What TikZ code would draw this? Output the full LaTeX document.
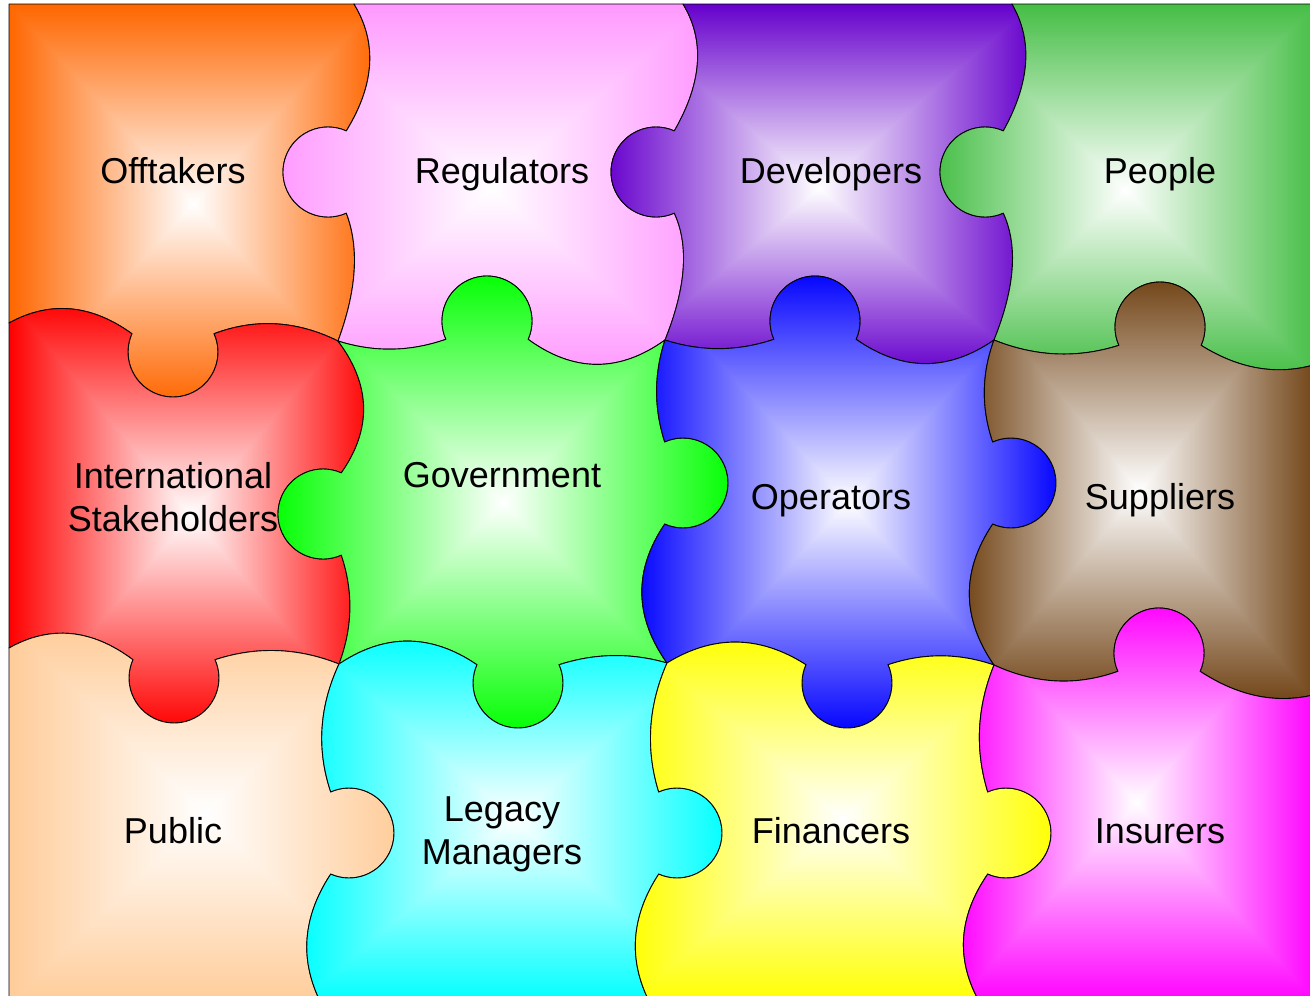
\documentclass[tikz,border=0pt]{standalone}
\usepackage{fontspec}
\setmainfont{Liberation Sans}
\usetikzlibrary{calc}

% rectangular ("box") gradient: white centre -> colour at the bounding box
\newcommand\mkshade[4]{%
 \pgfdeclarefunctionalshading{#1}{\pgfpointorigin}{\pgfpoint{100bp}{100bp}}{}{%
  50 sub abs exch 50 sub abs 2 copy lt {exch} if pop 25 div dup 1 gt {pop 1} if
  dup dup 1 #4 sub mul 1 exch sub 3 1 roll 1 #3 sub mul 1 exch sub exch
  1 #2 sub mul 1 exch sub 3 1 roll exch}}
\mkshade{shOff}{1}{0.4}{0}
\mkshade{shReg}{1}{0.6}{1}
\mkshade{shDev}{0.4}{0}{0.8}
\mkshade{shPeo}{0.27}{0.745}{0.27}
\mkshade{shInt}{1}{0}{0}
\mkshade{shGov}{0}{1}{0}
\mkshade{shOpe}{0}{0}{1}
\mkshade{shSup}{0.44}{0.26}{0.08}
\mkshade{shPub}{1}{0.8}{0.6}
\mkshade{shLeg}{0}{1}{1}
\mkshade{shFin}{1}{1}{0}
\mkshade{shIns}{1}{0}{1}

% symmetric bulging curve from #1 to #2, offset #3
\newcommand\pzbz[3]{.. controls ($(#1)!1/3!(#2)+(#3)$) and ($(#1)!2/3!(#2)+(#3)$) .. (#2)}
% edge: name, start, end, knob, d1, d2, start angle, end angle
\newcommand\pzedge[8]{%
 \expandafter\def\csname pzF#1\endcsname{\pzbz{#2}{#4a}{#5} arc[start angle=#7,end angle=#8,radius=45] \pzbz{#4b}{#3}{#6}}%
 \expandafter\def\csname pzR#1\endcsname{\pzbz{#3}{#4b}{#6} arc[start angle=#8,end angle=#7,radius=45] \pzbz{#4a}{#2}{#5}}}
\newcommand\pzknob[5]{\coordinate (#1) at (#2,#3); \coordinate (#1a) at ($(#1)+(#4:45)$); \coordinate (#1b) at ($(#1)+(#5:45)$);}

% vertical edges (top -> bottom)
\pzedge{A}{T1}{J11}{kA}{26,-4}{16,-8}{-66}{-294}
\pzedge{B}{T2}{J12}{kB}{25,-6}{18,-10}{-66}{-294}
\pzedge{C}{T3}{J13}{kC}{24,-6}{18,-10}{-66}{-294}
\pzedge{D}{J11}{J21}{kD}{32,0}{13,0}{-66}{-294}
\pzedge{E}{J12}{J22}{kE}{-11,0}{-32,0}{246}{474}
\pzedge{F}{J13}{J23}{kF}{-12,0}{-32,0}{246}{474}
\pzedge{G}{J21}{B1}{kG}{-17,0}{-25,0}{246}{474}
\pzedge{H}{J22}{B2}{kH}{-16,0}{-25,0}{246}{474}
\pzedge{I}{J23}{B3}{kI}{-15,0}{-27,0}{246}{474}
% horizontal edges (left -> right)
\pzedge{J}{L1}{J11}{kJ}{0,-26}{0,-18}{-156}{-384}
\pzedge{K}{J11}{J12}{kK}{0,12}{0,33}{156}{384}
\pzedge{L}{J12}{J13}{kL}{0,12}{0,32}{156}{384}
\pzedge{M}{J13}{R1}{kM}{0,15}{0,18}{156}{384}
\pzedge{N}{L2}{J21}{kN}{0,-27}{0,-15}{-156}{-384}
\pzedge{O}{J21}{J22}{kO}{0,-31}{0,-11}{-156}{-384}
\pzedge{P}{J22}{J23}{kP}{0,-29}{0,-12}{-156}{-384}
\pzedge{Q}{J23}{R2}{kQ}{0,17}{0,18}{156}{384}

\begin{document}
\begin{tikzpicture}[x=1pt,y=-1pt,
  piece/.style={shade, draw=black, line width=0.9pt, line join=round},
  lbl/.style={font=\fontsize{36}{43}\selectfont, anchor=base, inner sep=0pt, align=center}]
\useasboundingbox (0,0) rectangle (1310,996);
\fill[white] (0,0) rectangle (1310,996);
\clip (0,0) rectangle (1310,996);
% frame / junction points
\coordinate (TL) at (9,4);    \coordinate (T1) at (354,4);
\coordinate (T2) at (683,4);  \coordinate (T3) at (1012,4);
\coordinate (TR) at (1317,4);
\coordinate (L1) at (9,323);  \coordinate (L2) at (9,648);
\coordinate (R1) at (1317,364); \coordinate (R2) at (1317,694);
\coordinate (J11) at (338,341); \coordinate (J12) at (665,340); \coordinate (J13) at (994,340);
\coordinate (J21) at (339,664); \coordinate (J22) at (667,663); \coordinate (J23) at (994,665);
\coordinate (B1) at (321,1003); \coordinate (B2) at (650,1003); \coordinate (B3) at (980,1003);
\coordinate (BL) at (9,1003);  \coordinate (BR) at (1317,1003);
% knobs
\pzknob{kA}{328}{172}{-66}{-294}
\pzknob{kB}{656}{172}{-66}{-294}
\pzknob{kC}{985}{172}{-66}{-294}
\pzknob{kD}{323}{514}{-66}{-294}
\pzknob{kE}{683}{483}{246}{474}
\pzknob{kF}{1011}{483}{246}{474}
\pzknob{kG}{349}{833}{246}{474}
\pzknob{kH}{677}{833}{246}{474}
\pzknob{kI}{1006}{833}{246}{474}
\pzknob{kJ}{173}{352}{-156}{-384}
\pzknob{kK}{487}{321}{156}{384}
\pzknob{kL}{815}{321}{156}{384}
\pzknob{kM}{1160}{327}{156}{384}
\pzknob{kN}{174}{678}{-156}{-384}
\pzknob{kO}{518}{683}{-156}{-384}
\pzknob{kP}{847}{683}{-156}{-384}
\pzknob{kQ}{1159}{653}{156}{384}

% pieces
\path[piece, shading=shOff] (TL) -- (T1) \pzFA \pzRJ -- cycle;
\path[piece, shading=shReg] (T1) -- (T2) \pzFB \pzRK \pzRA -- cycle;
\path[piece, shading=shDev] (T2) -- (T3) \pzFC \pzRL \pzRB -- cycle;
\path[piece, shading=shPeo] (T3) -- (TR) -- (R1) \pzRM \pzRC -- cycle;
\path[piece, shading=shInt] (L1) \pzFJ \pzFD \pzRN -- cycle;
\path[piece, shading=shGov] (J11) \pzFK \pzFE \pzRO \pzRD -- cycle;
\path[piece, shading=shOpe] (J12) \pzFL \pzFF \pzRP \pzRE -- cycle;
\path[piece, shading=shSup] (J13) \pzFM -- (R2) \pzRQ \pzRF -- cycle;
\path[piece, shading=shPub] (L2) \pzFN \pzFG -- (BL) -- cycle;
\path[piece, shading=shLeg] (J21) \pzFO \pzFH -- (B1) \pzRG -- cycle;
\path[piece, shading=shFin] (J22) \pzFP \pzFI -- (B2) \pzRH -- cycle;
\path[piece, shading=shIns] (J23) \pzFQ -- (BR) -- (B3) \pzRI -- cycle;

% labels
\node[lbl] (tOff) at (173,183) {Offtakers};
\node[lbl] (tReg) at (502,183) {Regulators};
\node[lbl] (tDev) at (831,183) {Developers};
\node[lbl] (tPeo) at (1160,183) {People};
\node[lbl] (tInt) at (173,531) {International\\Stakeholders};
\node[lbl] (tGov) at (502,487) {Government};
\node[lbl] (tOpe) at (831,509) {Operators};
\node[lbl] (tSup) at (1160,509) {Suppliers};
\node[lbl] (tPub) at (173,843) {Public};
\node[lbl] (tLeg) at (502,864) {Legacy\\Managers};
\node[lbl] (tFin) at (831,843) {Financers};
\node[lbl] (tIns) at (1160,843) {Insurers};
\end{tikzpicture}
\end{document}
